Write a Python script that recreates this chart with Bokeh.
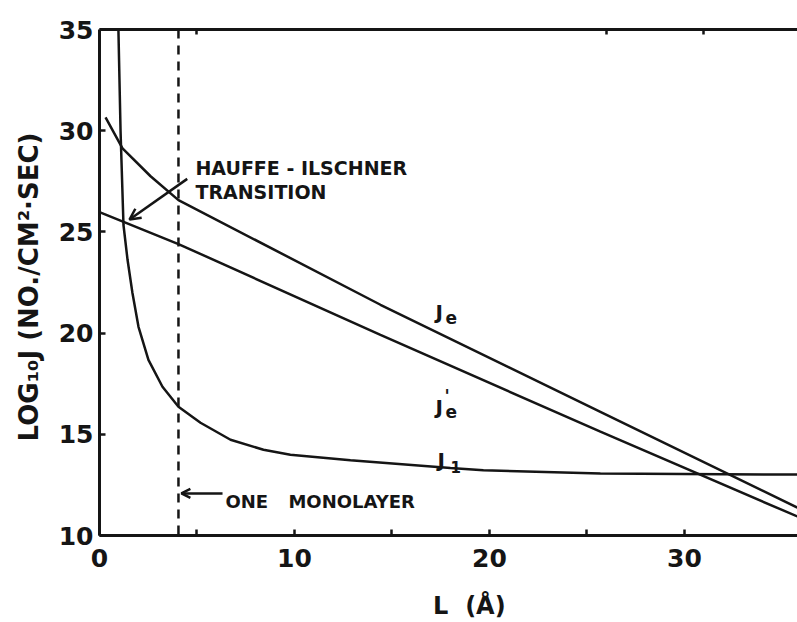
from bokeh.plotting import figure
from bokeh.models import Range1d, LinearAxis, FixedTicker, Span, Label, Arrow, OpenHead
from bokeh.embed import file_html
from bokeh.resources import INLINE

# Film thickness L (angstrom) and log10 of the fluxes
je_L = [0.31, 1.18, 2.62, 4.05, 14.41, 25.69, 35.79]
je_log = [30.66, 29.13, 27.75, 26.57, 21.40, 16.11, 11.38]

jep_L = [0.0, 4.05, 14.41, 25.69, 35.79]
jep_log = [25.98, 24.40, 19.91, 15.13, 10.94]

ji_L = [0.97, 1.08, 1.23, 1.44, 1.69, 2.0, 2.51, 3.23, 4.05, 5.18, 6.72,
        8.41, 9.79, 12.87, 18.0, 19.69, 25.69, 35.79]
ji_log = [35.0, 29.97, 25.34, 23.61, 21.98, 20.31, 18.68, 17.35, 16.36, 15.57,
          14.73, 14.24, 13.99, 13.72, 13.33, 13.22, 13.06, 13.01]

monolayer_L = 4.05

x_ticks = [0, 10, 20, 30]
x_minor_ticks = [5, 15, 25]
y_ticks = [10, 15, 20, 25, 30, 35]
top_ticks = [5, 26, 31]

INK = "#151515"
FONT = "DejaVu Sans"
NB = "\u00a0"

p = figure(width=797, height=622,
           x_range=Range1d(0, 35.8), y_range=Range1d(10, 35),
           output_backend="svg", toolbar_location=None,
           min_border_left=99, min_border_right=0,
           min_border_top=29, min_border_bottom=86)
p.outline_line_color = None
p.grid.visible = False
p.background_fill_color = "white"
p.border_fill_color = "white"

p.xaxis.ticker = FixedTicker(ticks=x_ticks, minor_ticks=x_minor_ticks)
p.yaxis.ticker = FixedTicker(ticks=y_ticks)
for ax in (p.xaxis[0], p.yaxis[0]):
    ax.axis_line_width = 3
    ax.axis_line_color = INK
    ax.major_tick_in = 6
    ax.major_tick_out = 0
    ax.major_tick_line_width = 2.5
    ax.major_tick_line_color = INK
    ax.minor_tick_in = 6
    ax.minor_tick_out = 0
    ax.minor_tick_line_width = 2.5
    ax.minor_tick_line_color = INK
    ax.major_label_text_font = FONT
    ax.major_label_text_font_style = "bold"
    ax.major_label_text_font_size = "25px"
    ax.major_label_text_color = INK
    ax.axis_label_text_font = FONT
    ax.axis_label_text_font_style = "bold"
    ax.axis_label_text_color = INK
p.xaxis.major_label_standoff = 13
p.yaxis.major_label_standoff = 6
p.yaxis.minor_tick_line_color = None

# axis titles
p.xaxis.axis_label = NB * 5 + "L" + NB * 2 + "(\u00c5)"
p.xaxis.axis_label_text_font_size = "24px"
p.xaxis.axis_label_standoff = 22
p.yaxis.axis_label = "LOG\u2081\u2080J (NO./CM\u00b2\u00b7SEC)" + NB
p.yaxis.axis_label_text_font_size = "26px"
p.yaxis.axis_label_standoff = 12

# top border drawn as an axis with inward ticks only
top = LinearAxis(ticker=FixedTicker(ticks=top_ticks))
top.axis_line_width = 3
top.axis_line_color = INK
top.major_tick_in = 5
top.major_tick_out = 0
top.major_tick_line_width = 2.5
top.major_tick_line_color = INK
top.minor_tick_line_color = None
top.major_label_text_color = None
p.add_layout(top, "above")

# one-monolayer marker
p.add_layout(Span(location=monolayer_L, dimension="height", line_color=INK,
                  line_width=2.5, line_dash="9 7"))

# flux curves
p.line(je_L, je_log, line_color=INK, line_width=2.5)
p.line(jep_L, jep_log, line_color=INK, line_width=2.5)
p.line(ji_L, ji_log, line_color=INK, line_width=2.5)


def label(x, y, text, size, **kw):
    opts = dict(text_font=FONT, text_font_style="bold", text_color=INK,
                text_font_size=size, text_align="left", text_baseline="alphabetic")
    opts.update(kw)
    p.add_layout(Label(x=x, y=y, text=text, **opts))


# curve labels
label(17.23, 21.02, "J", "20px")
label(17.75, 20.77, "e", "17px")
label(17.23, 16.37, "J", "20px")
label(17.70, 16.90, "'", "17px")
label(17.75, 16.13, "e", "17px")
label(17.33, 13.75, "J", "20px")
label(18.00, 13.36, "1", "15px")

# Hauffe-Ilschner transition note
label(4.92, 28.18, "HAUFFE - ILSCHNER", "19px")
label(4.92, 26.95, "TRANSITION", "19px")
p.add_layout(Arrow(x_start=4.5, y_start=27.62, x_end=1.54, y_end=25.61,
                   line_color=INK, line_width=2.5,
                   end=OpenHead(size=11, line_color=INK, line_width=2.5)))

# monolayer note
label(6.46, 11.68, "ONE", "18px")
label(9.69, 11.68, "MONOLAYER", "18px")
p.add_layout(Arrow(x_start=6.31, y_start=12.08, x_end=4.2, y_end=12.08,
                   line_color=INK, line_width=2.5,
                   end=OpenHead(size=9, line_color=INK, line_width=2.5)))

open("out.html", "w").write(file_html(p, INLINE))
